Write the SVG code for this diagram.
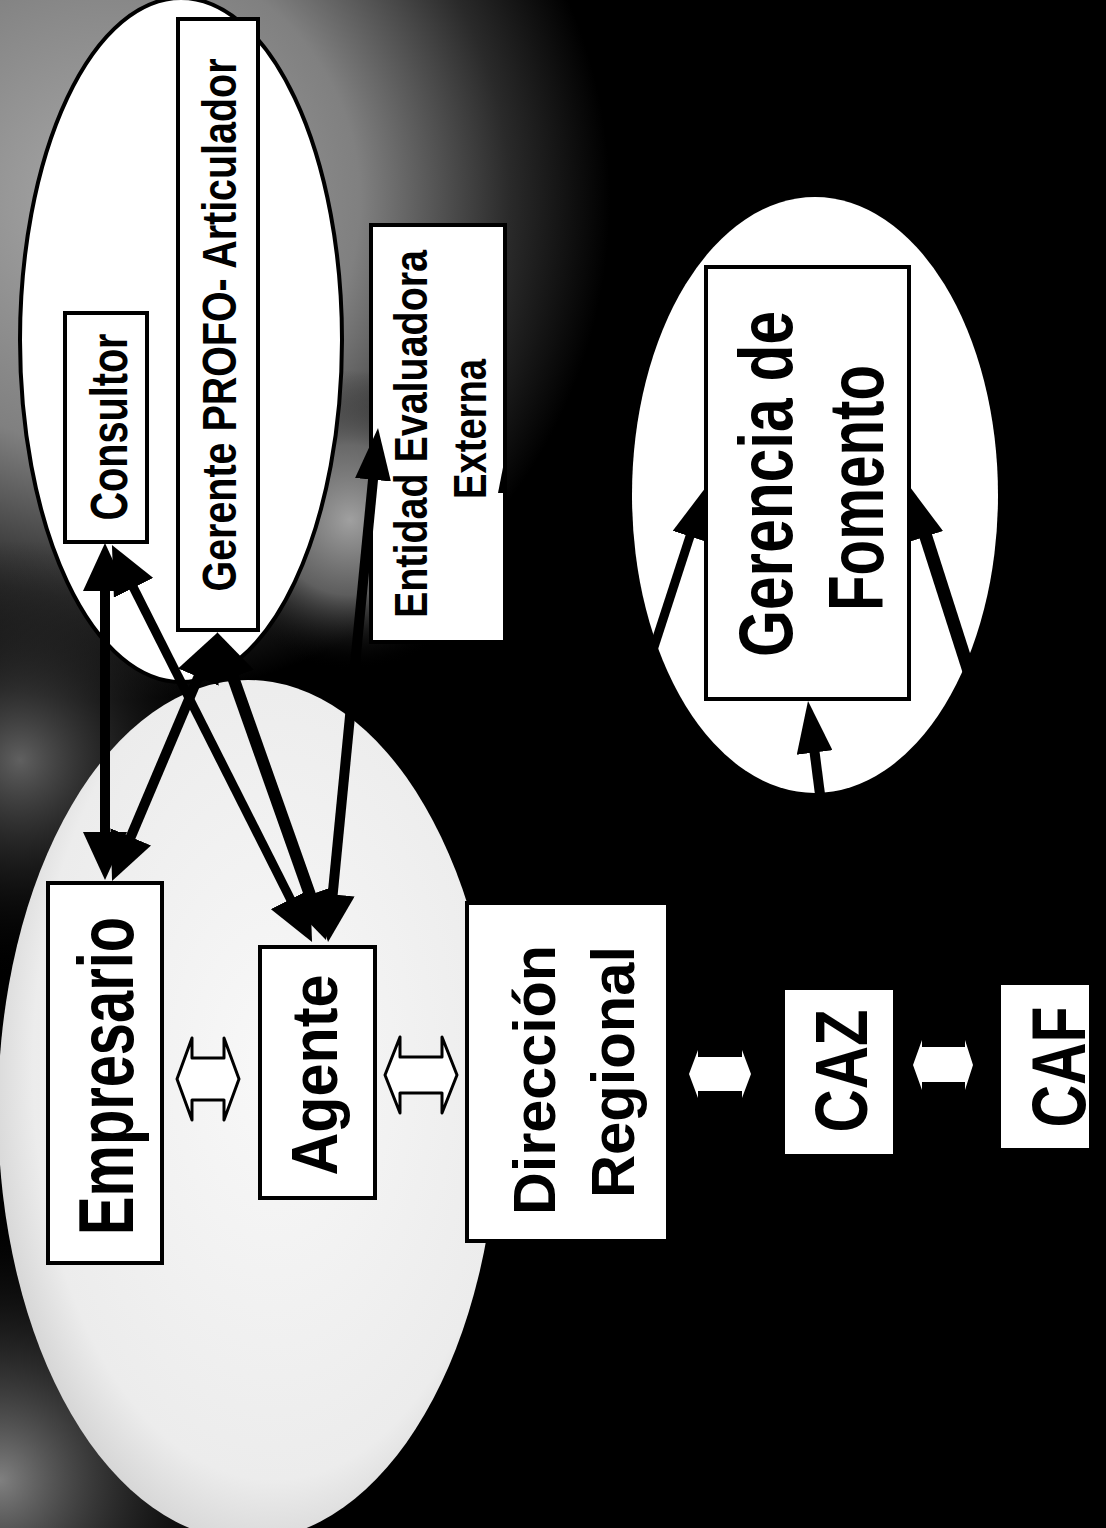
<svg xmlns="http://www.w3.org/2000/svg" width="1106" height="1528" viewBox="0 0 1106 1528">
<style>
.box{fill:#fff;stroke:#000;stroke-width:4}
.wbox{fill:#fff;stroke:none}
.t{font-family:"Liberation Sans",Arial,sans-serif;font-weight:bold;fill:#000;text-anchor:middle}
.ln{stroke:#000;fill:none}
.hollow{fill:#fff;stroke:#000;stroke-width:3;stroke-linejoin:round}
.solid{fill:#fff;stroke:none}
</style>
<defs>
<radialGradient id="haze1" gradientUnits="userSpaceOnUse" cx="110" cy="200" r="500">
<stop offset="0" stop-color="#a8a8a8"/>
<stop offset="0.5" stop-color="#808080"/>
<stop offset="0.8" stop-color="#2a2a2a"/>
<stop offset="1" stop-color="#000"/>
</radialGradient>
<radialGradient id="haze2" gradientUnits="userSpaceOnUse" cx="0" cy="1480" r="280">
<stop offset="0" stop-color="#808080"/>
<stop offset="1" stop-color="#000" stop-opacity="0"/>
</radialGradient>
<radialGradient id="haze3" gradientUnits="userSpaceOnUse" cx="20" cy="760" r="220">
<stop offset="0" stop-color="#606060"/>
<stop offset="1" stop-color="#000" stop-opacity="0"/>
</radialGradient>
<radialGradient id="haze4" gradientUnits="userSpaceOnUse" cx="350" cy="520" r="150">
<stop offset="0" stop-color="#a0a0a0"/>
<stop offset="0.5" stop-color="#707070" stop-opacity="0.8"/>
<stop offset="1" stop-color="#000" stop-opacity="0"/>
</radialGradient>
<radialGradient id="lowfill" cx="0.55" cy="0.45" r="0.6">
<stop offset="0" stop-color="#f8f8f8"/>
<stop offset="0.8" stop-color="#ececec"/>
<stop offset="1" stop-color="#cfcfcf"/>
</radialGradient>
<marker id="ah" viewBox="0 0 48 44" refX="33" refY="22" markerWidth="48" markerHeight="44" markerUnits="userSpaceOnUse" orient="auto-start-reverse">
<path d="M0,0 L48,22 L0,44 z" fill="#000"/>
</marker>
<marker id="ahN" viewBox="0 0 52 36" refX="30" refY="18" markerWidth="52" markerHeight="36" markerUnits="userSpaceOnUse" orient="auto-start-reverse">
<path d="M0,0 L52,18 L0,36 z" fill="#000"/>
</marker>
</defs>

<rect x="0" y="0" width="1106" height="1528" fill="#000"/>
<rect x="0" y="0" width="1106" height="1528" fill="url(#haze1)"/>
<rect x="0" y="0" width="1106" height="1528" fill="url(#haze2)"/>
<rect x="0" y="0" width="1106" height="1528" fill="url(#haze3)"/>
<rect x="0" y="0" width="1106" height="1528" fill="url(#haze4)"/>

<g id="ellipses">
<ellipse id="upper-ellipse" cx="181" cy="340" rx="161" ry="342" fill="#fff" stroke="#000" stroke-width="4"/>
<ellipse id="lower-ellipse" cx="248" cy="1110" rx="250" ry="430" fill="url(#lowfill)"/>
<ellipse id="gerencia-ellipse" cx="815" cy="495" rx="183" ry="298" fill="#fff"/>
</g>

<g id="consultor">
<rect class="box" x="65" y="313" width="82" height="229"/>
<text class="t" font-size="52" transform="translate(127,427) rotate(-90)" textLength="187" lengthAdjust="spacingAndGlyphs">Consultor</text>
</g>

<g id="gerente">
<rect class="box" x="178" y="19" width="80" height="611"/>
<text class="t" font-size="49" transform="translate(236,325) rotate(-90)" textLength="533" lengthAdjust="spacingAndGlyphs">Gerente PROFO- Articulador</text>
</g>

<g id="entidad">
<rect class="box" x="371" y="225" width="134" height="417" stroke="none"/>
<polygon points="507,447 498,493 507,493" fill="#000"/>
<text class="t" font-size="46" transform="translate(427,434) rotate(-90)" textLength="368" lengthAdjust="spacingAndGlyphs">Entidad Evaluadora</text>
<text class="t" font-size="47" transform="translate(486,429) rotate(-90)" textLength="140" lengthAdjust="spacingAndGlyphs">Externa</text>
</g>

<g id="empresario">
<rect class="box" x="48" y="883" width="114" height="380"/>
<text class="t" font-size="77" transform="translate(133,1076) rotate(-90)" textLength="318" lengthAdjust="spacingAndGlyphs">Empresario</text>
</g>

<g id="agente">
<rect class="box" x="260" y="947" width="115" height="251"/>
<text class="t" font-size="64" transform="translate(337,1075) rotate(-90)" textLength="201" lengthAdjust="spacingAndGlyphs">Agente</text>
</g>

<g id="direccion">
<rect class="box" x="467" y="903" width="201" height="338"/>
<text class="t" font-size="60" transform="translate(555,1080) rotate(-90)" textLength="270" lengthAdjust="spacingAndGlyphs">Dirección</text>
<text class="t" font-size="62" transform="translate(634,1072) rotate(-90)" textLength="252" lengthAdjust="spacingAndGlyphs">Regional</text>
</g>

<g id="caz">
<rect class="wbox" x="785" y="990" width="108" height="164"/>
<text class="t" font-size="75" transform="translate(867,1071) rotate(-90)" textLength="123" lengthAdjust="spacingAndGlyphs">CAZ</text>
</g>

<g id="caf">
<rect class="wbox" x="1001" y="985" width="88" height="163"/>
<text class="t" font-size="76" transform="translate(1085,1067) rotate(-90)" textLength="121" lengthAdjust="spacingAndGlyphs">CAF</text>
</g>

<g id="gerencia">
<rect class="box" x="706" y="267" width="203" height="432"/>
<text class="t" font-size="76" transform="translate(792,484) rotate(-90)" textLength="346" lengthAdjust="spacingAndGlyphs">Gerencia de</text>
<text class="t" font-size="78" transform="translate(883,488) rotate(-90)" textLength="246" lengthAdjust="spacingAndGlyphs">Fomento</text>
</g>

<g id="connectors">
<line class="ln" x1="105" y1="558" x2="105" y2="865" stroke-width="10" marker-start="url(#ah)" marker-end="url(#ah)"/>
<line class="ln" x1="118.7" y1="558.4" x2="305.3" y2="928.6" stroke-width="9" marker-start="url(#ah)" marker-end="url(#ah)"/>
<line class="ln" x1="211.2" y1="646.8" x2="117.9" y2="867.2" stroke-width="10" marker-start="url(#ah)" marker-end="url(#ah)"/>
<line class="ln" x1="222" y1="646.1" x2="321" y2="925.9" stroke-width="12" marker-start="url(#ah)" marker-end="url(#ah)"/>
<line class="ln" x1="375.9" y1="449.9" x2="329.5" y2="927.1" stroke-width="10" marker-start="url(#ahN)" marker-end="url(#ah)"/>
<line class="ln" x1="640" y1="690" x2="699.2" y2="507.9" stroke-width="9" marker-end="url(#ahN)"/>
<line class="ln" x1="975" y1="690" x2="916.7" y2="508" stroke-width="13" marker-end="url(#ahN)"/>
<line class="ln" x1="822" y1="810" x2="810.8" y2="722.8" stroke-width="10" marker-end="url(#ahN)"/>
<polygon class="hollow" points="177,1079 192,1038 192,1058 224,1058 224,1038 239,1079 224,1120 224,1100 192,1100 192,1120"/>
<polygon class="hollow" points="385,1075 400,1037 400,1057 442,1057 442,1037 457,1075 442,1113 442,1093 400,1093 400,1113"/>
<polygon class="solid" points="689,1074 698,1050 698,1057 742,1057 742,1050 751,1074 742,1098 742,1091 698,1091 698,1098"/>
<polygon class="solid" points="913,1065 922,1040 922,1047 965,1047 965,1040 973,1065 965,1090 965,1082 922,1082 922,1090"/>
</g>
</svg>
